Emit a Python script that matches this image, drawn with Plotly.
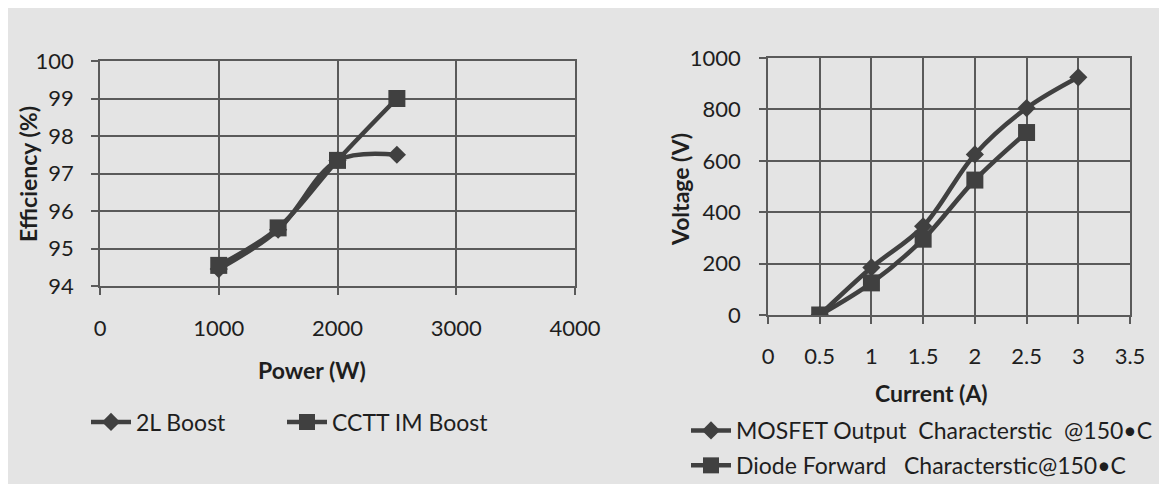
import plotly.graph_objects as go

# ---- data ----
power_w = [1000, 1500, 2000, 2500]
eff_2l_boost = [94.45, 95.5, 97.35, 97.5]
eff_cctt_im_boost = [94.55, 95.55, 97.35, 99.0]

current_mosfet = [0.5, 1.0, 1.5, 2.0, 2.5, 3.0]
voltage_mosfet = [0, 185, 345, 625, 805, 925]
current_diode = [0.5, 1.0, 1.5, 2.0, 2.5]
voltage_diode = [0, 125, 295, 525, 710]

left_xticks = [0, 1000, 2000, 3000, 4000]
left_yticks = [94, 95, 96, 97, 98, 99, 100]
right_xticks = [0, 0.5, 1, 1.5, 2, 2.5, 3, 3.5]
right_xticklabels = ["0", "0.5", "1", "1.5", "2", "2.5", "3", "3.5"]
right_yticks = [0, 200, 400, 600, 800, 1000]

W, H = 1167, 484
OFF = 8  # page body margin
BG = "#e4e4e4"
LINE = "#404040"
GRID = "#5a5a5a"
TXT = "#1e1e1e"
FONT = "Lato"
FS = 22
LFS = 23

def px_x(p):
    return (p - OFF) / W

def px_y(p):
    return 1 - (p - OFF) / H

fig = go.Figure()

fig.add_trace(go.Scatter(
    x=power_w, y=eff_2l_boost, name="2L Boost", mode="lines+markers",
    line=dict(color=LINE, width=4.5, shape="spline", smoothing=1),
    marker=dict(symbol="diamond", size=14, color=LINE),
    xaxis="x", yaxis="y", legend="legend"))
fig.add_trace(go.Scatter(
    x=power_w, y=eff_cctt_im_boost, name="CCTT IM Boost", mode="lines+markers",
    line=dict(color=LINE, width=4.5, shape="spline", smoothing=1),
    marker=dict(symbol="square", size=17, color=LINE),
    xaxis="x", yaxis="y", legend="legend3"))

fig.add_trace(go.Scatter(
    x=current_mosfet, y=voltage_mosfet,
    name="MOSFET\u00a0Output\u00a0\u00a0Characterstic\u00a0\u00a0@150\u2022C",
    mode="lines+markers", legendgroup="m",
    line=dict(color=LINE, width=4.5, shape="spline", smoothing=1),
    marker=dict(symbol="diamond", size=14, color=LINE),
    xaxis="x2", yaxis="y2", legend="legend2"))
fig.add_trace(go.Scatter(
    x=current_diode, y=voltage_diode,
    name="Diode\u00a0Forward\u00a0\u00a0\u00a0Characterstic@150\u2022C",
    mode="lines+markers", legendgroup="d",
    line=dict(color=LINE, width=4.5, shape="spline", smoothing=1),
    marker=dict(symbol="square", size=17, color=LINE),
    xaxis="x2", yaxis="y2", legend="legend2"))

axis_common = dict(
    showgrid=True, gridcolor=GRID, gridwidth=1.8,
    showline=True, linecolor=GRID, linewidth=1.8, mirror=True,
    ticks="outside", ticklen=7, tickcolor=GRID, tickwidth=1.8,
    zeroline=False, automargin=False,
    tickfont=dict(family=FONT, size=FS, color=TXT),
)

legend_common = dict(bgcolor="rgba(0,0,0,0)", font=dict(family=FONT, size=LFS, color=TXT),
                     itemwidth=40, xanchor="left", yanchor="middle")

fig.update_layout(
    width=W, height=H,
    margin=dict(l=0, r=0, t=0, b=0, autoexpand=False),
    paper_bgcolor=BG, plot_bgcolor=BG,
    font=dict(family=FONT, color=TXT),
    xaxis=dict(domain=[px_x(100), px_x(575)], range=[0, 4000],
               tickvals=left_xticks, ticklabelstandoff=15, anchor="y", **axis_common),
    yaxis=dict(domain=[px_y(286), px_y(61)], range=[94, 100],
               tickvals=left_yticks, ticklabelstandoff=13, anchor="x", **axis_common),
    xaxis2=dict(domain=[px_x(768), px_x(1130)], range=[0, 3.5],
                tickvals=right_xticks, ticktext=right_xticklabels,
                ticklabelstandoff=14, anchor="y2", **axis_common),
    yaxis2=dict(domain=[px_y(315), px_y(58)], range=[0, 1000],
                tickvals=right_yticks, ticklabelstandoff=14, anchor="x2", **axis_common),
    legend=dict(orientation="h", x=px_x(86), y=px_y(422), **legend_common),
    legend3=dict(orientation="h", x=px_x(282), y=px_y(422), **legend_common),
    legend2=dict(orientation="v", x=px_x(686), y=px_y(448), tracegroupgap=2, **legend_common),
    showlegend=True,
)

# axis titles
tfont = dict(family=FONT, size=23, color=TXT)
ann = dict(xref="paper", yref="paper", showarrow=False, font=tfont,
           xanchor="center", yanchor="middle")
fig.add_annotation(text="<b>Power (W)</b>", x=px_x(312), y=px_y(370), **ann)
fig.add_annotation(text="<b>Efficiency (%)</b>", x=px_x(28), y=px_y(174), textangle=-90, **ann)
fig.add_annotation(text="<b>Current (A)</b>", x=px_x(931), y=px_y(393), **ann)
fig.add_annotation(text="<b>Voltage (V)</b>", x=px_x(680), y=px_y(190), textangle=-90, **ann)

fig.write_html("out.html")
